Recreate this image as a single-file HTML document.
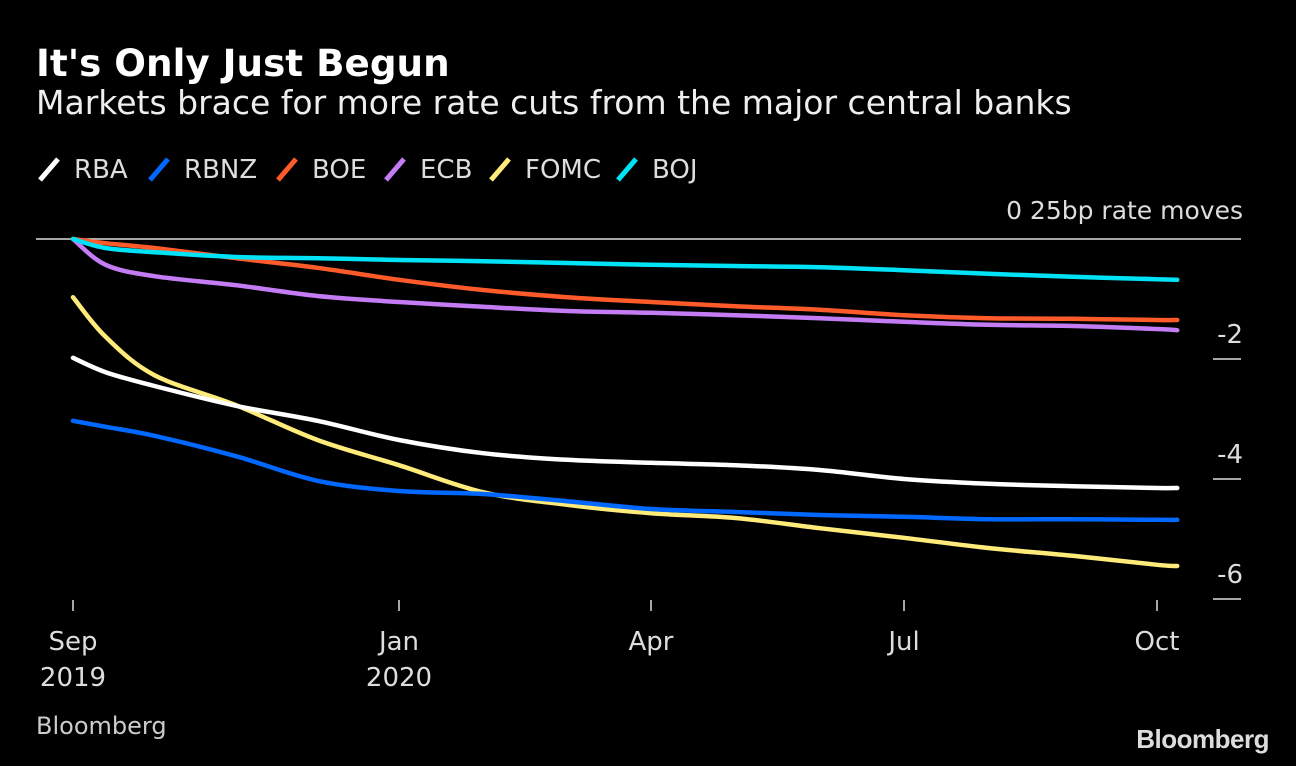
<!DOCTYPE html>
<html><head><meta charset="utf-8"><style>
html,body{margin:0;padding:0;background:#000;}
body{width:1296px;height:766px;overflow:hidden;position:relative;font-family:"DejaVu Sans","Liberation Sans",sans-serif;color:#ddd;}
.t{position:absolute;white-space:nowrap;}
</style></head><body>
<div class="t" style="left:36px;top:41px;font-size:37.3px;font-weight:bold;color:#fff;">It's Only Just Begun</div>
<div class="t" style="left:36px;top:83px;font-size:33px;color:#eee;">Markets brace for more rate cuts from the major central banks</div>
<svg id="c" width="1296" height="766" style="position:absolute;left:0;top:0"></svg>
<div class="t" style="left:36px;top:712px;font-size:24px;color:#ccc;">Bloomberg</div>
<div class="t" style="right:27px;top:724px;font-size:26px;font-weight:bold;color:#ddd;font-family:'Liberation Sans',sans-serif;letter-spacing:-0.5px;">Bloomberg</div>
<script>
const months=[0,0.4,1,2,3,4,5,6,7,8,9,10,11,12,13,13.24];
const names=["RBA","RBNZ","BOE","ECB","FOMC","BOJ"];
const colors=["#ffffff","#0068ff","#ff5a2a","#c47cf5","#ffeb7a","#00e3f7"];
const RBA=[-1.98,-2.22,-2.45,-2.78,-3.03,-3.35,-3.57,-3.68,-3.73,-3.77,-3.85,-4.0,-4.08,-4.12,-4.15,-4.15];
const RBNZ=[-3.03,-3.13,-3.28,-3.62,-4.03,-4.2,-4.25,-4.37,-4.5,-4.55,-4.6,-4.63,-4.67,-4.67,-4.68,-4.68];
const BOE=[0,-0.07,-0.15,-0.32,-0.48,-0.68,-0.85,-0.97,-1.05,-1.12,-1.18,-1.27,-1.32,-1.33,-1.35,-1.35];
const ECB=[0,-0.43,-0.62,-0.77,-0.95,-1.05,-1.13,-1.2,-1.23,-1.27,-1.32,-1.38,-1.43,-1.45,-1.5,-1.52];
const FOMC=[-0.97,-1.63,-2.27,-2.77,-3.35,-3.77,-4.22,-4.43,-4.57,-4.65,-4.82,-4.98,-5.15,-5.28,-5.43,-5.45];
const BOJ=[0,-0.15,-0.22,-0.3,-0.32,-0.35,-0.37,-0.4,-0.43,-0.45,-0.47,-0.52,-0.58,-0.63,-0.67,-0.68];
const series=[RBA,RBNZ,BOE,ECB,FOMC,BOJ];
const xTicks=[0,4,7,10,13];
const xLabels=[["Sep","2019"],["Jan","2020"],["Apr",""],["Jul",""],["Oct",""]];
const yTicks=[-2,-4,-6];
const NS="http://www.w3.org/2000/svg";
const svg=document.getElementById('c');
const tickPx=[73,399,651,904,1157];
function x(m){
 for(let i=0;i<xTicks.length-1;i++){
  if(m<=xTicks[i+1]||i==xTicks.length-2){
   const a=xTicks[i],b=xTicks[i+1];
   return tickPx[i]+(m-a)/(b-a)*(tickPx[i+1]-tickPx[i]);
  }
 }
}
const y=v=>239-v*60;
function el(t,a){const e=document.createElementNS(NS,t);for(const k in a)e.setAttribute(k,a[k]);svg.appendChild(e);return e;}
let lx=38;
const legW=[110,128,108,105,127,100];
names.forEach((n,i)=>{
 const g=el('g',{});
 
 
 const l=document.createElementNS(NS,'line');
 l.setAttribute('x1',lx+2);l.setAttribute('y1',180);l.setAttribute('x2',lx+20);l.setAttribute('y2',159);
 l.setAttribute('stroke',colors[i]);l.setAttribute('stroke-width',5);
 g.appendChild(l);
 const t=document.createElementNS(NS,'text');
 t.setAttribute('x',lx+36);t.setAttribute('y',178);t.setAttribute('fill','#ddd');t.setAttribute('font-size','26');
 t.textContent=n;g.appendChild(t);
 lx+=legW[i];
});
const z=el('line',{x1:36,x2:1241,y1:y(0),y2:y(0),stroke:'#ddd','stroke-width':1.5});

const zt=el('text',{x:1243,y:219,'text-anchor':'end',fill:'#ddd','font-size':'25'});
zt.textContent='0 25bp rate moves';

yTicks.forEach(v=>{
 const tl=el('line',{x1:1213,x2:1241,y1:y(v),y2:y(v),stroke:'#ddd','stroke-width':1.5});
 
 const tt=el('text',{x:1243,y:y(v)-16,'text-anchor':'end',fill:'#ddd','font-size':'26'});
 tt.textContent=v;
 
});
xTicks.forEach((m,i)=>{
 const tl=el('line',{x1:x(m),x2:x(m),y1:600,y2:611,stroke:'#ddd','stroke-width':1.5});
 
 xLabels[i].forEach((s,j)=>{ if(!s)return;
  const tt=el('text',{x:x(m),y:650+j*36,'text-anchor':'middle',fill:'#ddd','font-size':'26'});
  tt.textContent=s;
  
 });
});
function path(vals){
 const p=vals.map((v,i)=>[x(months[i]),y(v)]);
 let d='M'+p[0][0]+','+p[0][1];
 for(let i=0;i<p.length-1;i++){
  const p0=p[i-1]||p[i],p1=p[i],p2=p[i+1],p3=p[i+2]||p2;
  const c1=[p1[0]+(p2[0]-p0[0])/6,p1[1]+(p2[1]-p0[1])/6];
  const c2=[p2[0]-(p3[0]-p1[0])/6,p2[1]-(p3[1]-p1[1])/6];
  d+=` C${c1[0]},${c1[1]} ${c2[0]},${c2[1]} ${p2[0]},${p2[1]}`;
 }
 return d;
}
[4,0,1,3,2,5].forEach(i=>{
 const pth=el('path',{d:path(series[i]),fill:'none',stroke:colors[i],'stroke-width':4.5,'stroke-linecap':'round'});
 
 
});
</script>
</body></html>
